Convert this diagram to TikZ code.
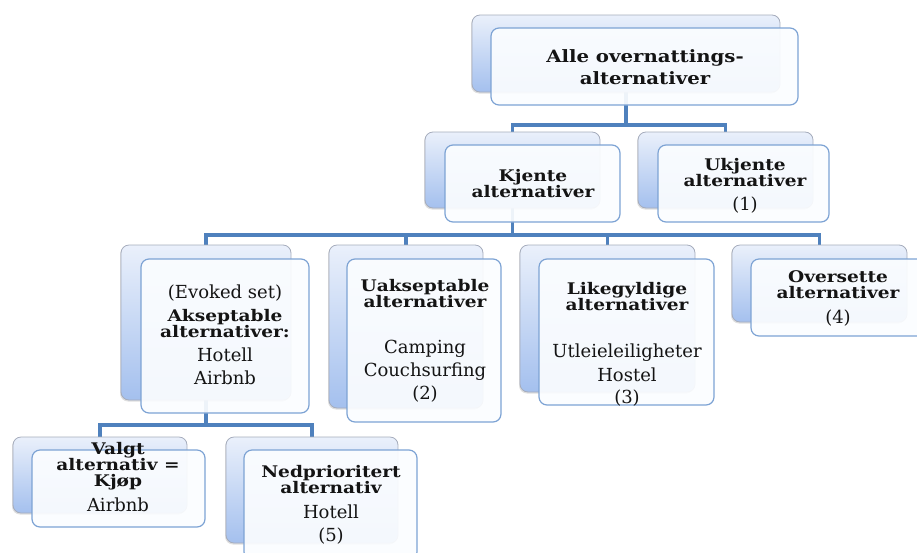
\documentclass[tikz,border=0pt]{standalone}
\usepackage{fontspec}
\setmainfont{DejaVu Serif}
\newfontfamily\headfont[FakeStretch=1.16]{DejaVu Serif}
\usetikzlibrary{shadows}
\pgfdeclarelayer{bg}
\pgfsetlayers{bg,main}

\begin{document}
\begin{tikzpicture}[x=1pt,y=-1pt,
  backbox/.style={draw=backEdge, line width=0.8pt, rounded corners=8pt,
    top color=backTop, bottom color=backBot, inner sep=0pt, outer sep=0pt,
    anchor=north west, drop shadow={shadow xshift=-1pt, shadow yshift=-1.5pt, opacity=0.25}},
  frontbox/.style={draw=frontEdge, line width=1.2pt, rounded corners=8pt,
    fill=frontFill, fill opacity=0.92, inner sep=0pt, outer sep=0pt, anchor=north west},
  conn/.style={draw=lineBlue, line width=3.5pt},
  headtxt/.style={anchor=base, inner sep=0pt, outer sep=0pt, font=\headfont\bfseries\fontsize{16}{16}\selectfont},
  toptxt/.style={anchor=base, inner sep=0pt, outer sep=0pt, font=\headfont\bfseries\fontsize{17}{22}\selectfont},
  itemtxt/.style={anchor=base, inner sep=0pt, outer sep=0pt, font=\fontsize{18}{22}\selectfont}]
\definecolor{lineBlue}{RGB}{79,129,189}
\definecolor{backTop}{RGB}{234,240,251}
\definecolor{backBot}{RGB}{164,192,238}
\definecolor{backEdge}{RGB}{165,172,188}
\definecolor{frontEdge}{RGB}{125,163,212}
\definecolor{frontFill}{RGB}{251,253,255}
\definecolor{textColor}{RGB}{20,20,20}
\path[use as bounding box] (0,0) rectangle (917,552);
\clip (0,0) rectangle (917,552);

% back boxes
\node[backbox, minimum width=308pt, minimum height=77pt] (topB) at (472, 15) {};
\node[backbox, minimum width=175pt, minimum height=76pt] (kjB) at (425,132) {};
\node[backbox, minimum width=175pt, minimum height=76pt] (ukB) at (638,132) {};
\node[backbox, minimum width=170pt, minimum height=155pt] (evB) at (121,245) {};
\node[backbox, minimum width=154pt, minimum height=163pt] (uaB) at (329,245) {};
\node[backbox, minimum width=175pt, minimum height=147pt] (liB) at (520,245) {};
\node[backbox, minimum width=175pt, minimum height=77pt] (ovB) at (732,245) {};
\node[backbox, minimum width=174pt, minimum height=76pt] (vaB) at ( 13,437) {};
\node[backbox, minimum width=172pt, minimum height=106pt] (neB) at (226,437) {};

% front boxes
\node[frontbox, minimum width=307pt, minimum height=77pt] (topF) at (491, 28) {};
\node[frontbox, minimum width=175pt, minimum height=77pt] (kjF) at (445,145) {};
\node[frontbox, minimum width=171pt, minimum height=77pt] (ukF) at (658,145) {};
\node[frontbox, minimum width=168pt, minimum height=154pt] (evF) at (141,259) {};
\node[frontbox, minimum width=154pt, minimum height=163pt] (uaF) at (347,259) {};
\node[frontbox, minimum width=175pt, minimum height=146pt] (liF) at (539,259) {};
\node[frontbox, minimum width=175pt, minimum height=77pt] (ovF) at (751,259) {};
\node[frontbox, minimum width=173pt, minimum height=77pt] (vaF) at ( 32,450) {};
\node[frontbox, minimum width=173pt, minimum height=110pt] (neF) at (244,450) {};

% connectors
\begin{pgfonlayer}{bg}
\draw[conn] (topB.south) -- ++(0,33) coordinate (j1);
\draw[conn] (kjB.north) |- (j1) -| (ukB.north);
\draw[conn] (kjB.south) -- ++(0,27) coordinate (j2);
\draw[conn] (evB.north) |- (j2) -| (ovB.north);
\draw[conn] (uaB.north) -- (uaB.north |- j2);
\draw[conn] (liB.north) -- (liB.north |- j2);
\draw[conn] (evB.south) -- ++(0,25) coordinate (j3);
\draw[conn] (vaB.north) |- (j3) -| (neB.north);
\end{pgfonlayer}

% texts
\node[toptxt, text=textColor] (topT1) at (645, 62) {Alle overnattings-};
\node[toptxt, text=textColor] (topT2) at (645, 84) {alternativer};

\node[headtxt, text=textColor] (kjT1) at (533,181) {Kjente};
\node[headtxt, text=textColor] (kjT2) at (533,197) {alternativer};

\node[headtxt, text=textColor] (ukT1) at (745,170) {Ukjente};
\node[headtxt, text=textColor] (ukT2) at (745,186) {alternativer};
\node[itemtxt, text=textColor] (ukT3) at (745,210) {(1)};

\node[itemtxt, text=textColor] (evT1) at (225,298) {(Evoked set)};
\node[headtxt, text=textColor] (evT2) at (225,321) {Akseptable};
\node[headtxt, text=textColor] (evT3) at (225,337) {alternativer:};
\node[itemtxt, text=textColor] (evT4) at (225,361) {Hotell};
\node[itemtxt, text=textColor] (evT5) at (225,384) {Airbnb};

\node[headtxt, text=textColor] (uaT1) at (425,291) {Uakseptable};
\node[headtxt, text=textColor] (uaT2) at (425,307) {alternativer};
\node[itemtxt, text=textColor] (uaT3) at (425,353) {Camping};
\node[itemtxt, text=textColor] (uaT4) at (425,376) {Couchsurfing};
\node[itemtxt, text=textColor] (uaT5) at (425,399) {(2)};

\node[headtxt, text=textColor] (liT1) at (627,294) {Likegyldige};
\node[headtxt, text=textColor] (liT2) at (627,310) {alternativer};
\node[itemtxt, text=textColor] (liT3) at (627,357) {Utleieleiligheter};
\node[itemtxt, text=textColor] (liT4) at (627,381) {Hostel};
\node[itemtxt, text=textColor] (liT5) at (627,403) {(3)};

\node[headtxt, text=textColor] (ovT1) at (838,282) {Oversette};
\node[headtxt, text=textColor] (ovT2) at (838,298) {alternativer};
\node[itemtxt, text=textColor] (ovT3) at (838,323) {(4)};

\node[headtxt, text=textColor] (vaT1) at (118,454) {Valgt};
\node[headtxt, text=textColor] (vaT2) at (118,470) {alternativ =};
\node[headtxt, text=textColor] (vaT3) at (118,486) {Kjøp};
\node[itemtxt, text=textColor] (vaT4) at (118,511) {Airbnb};

\node[headtxt, text=textColor] (neT1) at (331,477) {Nedprioritert};
\node[headtxt, text=textColor] (neT2) at (331,493) {alternativ};
\node[itemtxt, text=textColor] (neT3) at (331,518) {Hotell};
\node[itemtxt, text=textColor] (neT4) at (331,541) {(5)};
\end{tikzpicture}
\end{document}
